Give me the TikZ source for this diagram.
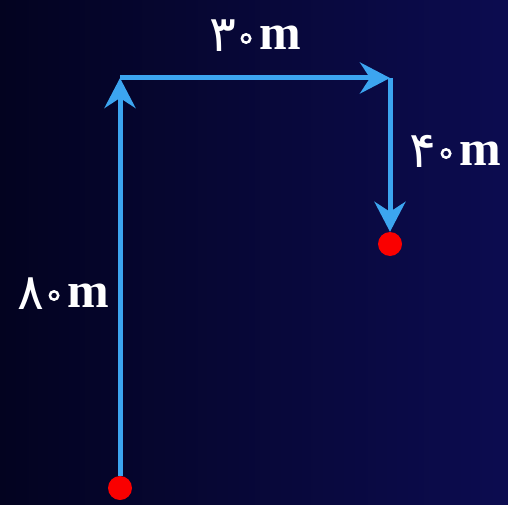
\documentclass[tikz,border=0pt]{standalone}
\usepackage{fontspec}
\setmainfont{Liberation Serif}
\newfontfamily\fadigits{DejaVu Sans}
\usetikzlibrary{arrows.meta}
\definecolor{bgleft}{RGB}{3,3,32}
\definecolor{bgright}{RGB}{12,12,80}
\definecolor{vecblue}{RGB}{60,165,240}
\definecolor{dotred}{RGB}{250,0,0}
\tikzset{
  vec/.style={draw=vecblue, line width=5pt, -{Stealth[length=30pt,width=31pt,inset=10pt]}},
  dotnode/.style={circle, fill=dotred, minimum size=24pt, inner sep=0pt},
  lbl/.style={text=white, anchor=base west, inner sep=0pt, font=\fontsize{50}{52}\selectfont\bfseries}
}
% Persian zero drawn as a small ring (glyph kept as invisible text)
\newcommand{\ringzero}{\makebox[0pt][l]{\fadigits\mdseries\fontsize{30}{30}\selectfont\special{pdf:literal direct 3 Tr}۰\special{pdf:literal direct 0 Tr}}%
  \tikz[baseline=0pt]{\useasboundingbox (0pt,0pt) rectangle (12pt,1pt);
    \draw[white, line width=2.5pt] (6pt,11.5pt) circle[radius=4.2pt];}}
\newcommand{\pd}[1]{\raisebox{-2pt}{\fadigits\mdseries\fontsize{50}{52}\selectfont #1}\kern4pt\ringzero\kern7pt}
\begin{document}
\begin{tikzpicture}[x=1pt,y=-1pt]
\useasboundingbox (0,0) rectangle (508,505);
\shade[left color=bgleft, right color=bgright] (0,0) rectangle (508,505);
\node[dotnode] (A) at (120,488) {};
\coordinate (B) at (120,78);
\coordinate (C) at (390,78);
\node[dotnode] (D) at (390,244) {};
\draw[vec] (A) -- (B);
\draw[vec] (B) -- (C);
\draw[vec] (C) -- (D);
\node[lbl] (L1) at (209,50) {\pd{۳}m};
\node[lbl] (L2) at (409,165) {\pd{۴}m};
\node[lbl] (L3) at (17,307) {\pd{۸}m};
\end{tikzpicture}
\end{document}
